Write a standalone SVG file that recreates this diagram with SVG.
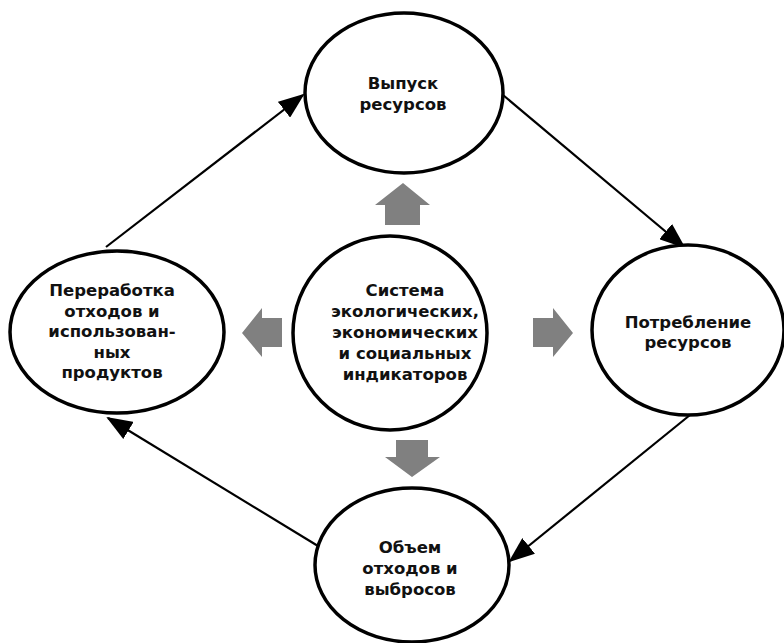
<svg xmlns="http://www.w3.org/2000/svg" width="784" height="643" viewBox="0 0 784 643">
<style>
.node ellipse{fill:#fff;stroke:#000;stroke-width:3.5}
.node text{font-family:"DejaVu Sans","Liberation Sans",sans-serif;font-weight:bold;font-size:16.5px;fill:#111;text-anchor:middle}
.conn line{stroke:#000;stroke-width:2.2;fill:none}
.blk{fill:#808080}
</style>
<defs>
<marker id="ahb" viewBox="0 0 26 20" refX="24" refY="10" markerWidth="26" markerHeight="20" markerUnits="userSpaceOnUse" orient="auto">
<path d="M0,0 L26,10 L0,20 z" fill="#000"/>
</marker>
</defs>
<g id="connectors" class="conn">
<line x1="106" y1="247" x2="303" y2="95" marker-end="url(#ahb)"/>
<line x1="503" y1="95" x2="684" y2="247" marker-end="url(#ahb)"/>
<line x1="690" y1="415" x2="510" y2="561" marker-end="url(#ahb)"/>
<line x1="318" y1="546" x2="108" y2="418" marker-end="url(#ahb)"/>
</g>
<g id="block-arrows">
<polygon class="blk" points="385,225 385,205 375,205 403,183 430,205 420,205 420,225"/>
<polygon class="blk" points="533,318 553,318 553,308 573,333 553,357 553,347 533,347"/>
<polygon class="blk" points="396,440 428,440 428,457 440,457 412,477 385,457 396,457"/>
<polygon class="blk" points="282,318 262,318 262,308 242,333 262,357 262,347 282,347"/>
</g>
<g id="node-top" class="node">
<ellipse cx="404" cy="93" rx="99" ry="80"/>
<text x="403" y="89">Выпуск</text>
<text x="403" y="110">ресурсов</text>
</g>
<g id="node-center" class="node">
<ellipse cx="390" cy="333" rx="97" ry="97"/>
<text x="405" y="296">Система</text>
<text x="405" y="317">экологических,</text>
<text x="405" y="338">экономических</text>
<text x="405" y="359">и социальных</text>
<text x="405" y="380">индикаторов</text>
</g>
<g id="node-left" class="node">
<ellipse cx="117" cy="332" rx="107" ry="81"/>
<text x="112" y="296">Переработка</text>
<text x="112" y="316.5">отходов и</text>
<text x="112" y="337">использован-</text>
<text x="112" y="357.5">ных</text>
<text x="112" y="378">продуктов</text>
</g>
<g id="node-right" class="node">
<ellipse cx="688" cy="330" rx="96" ry="85"/>
<text x="688" y="328">Потребление</text>
<text x="688" y="348">ресурсов</text>
</g>
<g id="node-bottom" class="node">
<ellipse cx="412" cy="565" rx="97" ry="77"/>
<text x="410" y="553">Объем</text>
<text x="410" y="574">отходов и</text>
<text x="410" y="595">выбросов</text>
</g>
</svg>
